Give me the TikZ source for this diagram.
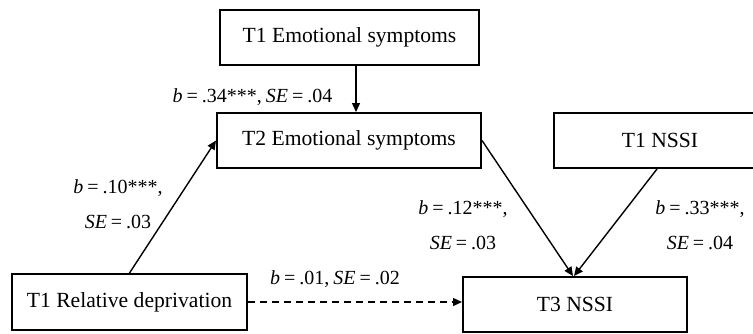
\documentclass[tikz,border=0pt]{standalone}
\usepackage{fontspec}
\setmainfont{Liberation Serif}
\usepackage{tikz}
\usetikzlibrary{arrows.meta,positioning,calc}
\newcommand\labfont{\fontsize{10pt}{17.5pt}\selectfont\spaceskip=0.2em\relax}

\begin{document}
\begin{tikzpicture}[
    x=0.5pt,y=-0.5pt,
    var/.style  = {rectangle,draw=black,line width=1pt,fill=white,inner sep=0pt,
                   align=center,font=\fontsize{10.8pt}{13pt}\selectfont,
                   minimum height=27.5pt},
    fl/.style   = {-{Triangle[length=4.5pt,width=4pt]},line width=0.7pt},
    fltir/.style= {fl,dashed,dash pattern=on 3.5pt off 2.5pt},
    lab/.style  = {font=\labfont,align=center,inner sep=0pt},
  ]
  \useasboundingbox (0,0) rectangle (753,333);

  % ── Variables ───────────────────────────────────────────────────────────
  \node[var,minimum width=129.5pt] (emo1)   at (349.5,37)   {T1 Emotional symptoms};
  \node[var,minimum width=132pt]   (emo2)   at (349,140.5)  {T2 Emotional symptoms};
  \node[var,minimum width=106pt]   (nssi1)  at (660,140.5)  {T1 NSSI};
  \node[var,minimum width=112pt]   (nssi3)  at (575,304.5)  {T3 NSSI};
  \node[var,minimum width=117.5pt,minimum height=28pt] (reldep) at (129.5,302) {T1 Relative deprivation};

  % ── Coefficients ────────────────────────────────────────────────────────
  \node[lab] (l34) at (252.5,97)  {\textit{b} = .34***, \textit{SE} = .04};
  \node[lab] (l10) at (118,204.5) {\textit{b} = .10***,\\\textit{SE} = .03};
  \node[lab] (l12) at (463,225)   {\textit{b} = .12***,\\\textit{SE} = .03};
  \node[lab] (l33) at (700,225)   {\textit{b} = .33***,\\\textit{SE} = .04};
  \node[lab] (l01) at (335,279)   {\textit{b} = .01, \textit{SE} = .02};

  % ── Chemins ─────────────────────────────────────────────────────────────
  \draw[fl] ([xshift=3.25pt]emo1.south) -- ([xshift=3.25pt]emo1.south |- emo2.north);
  \draw[fl] (reldep.north) -- (emo2.west);
  \draw[fl] (emo2.east) -- ([xshift=-1pt]nssi3.north);
  \draw[fl] ([xshift=-1.5pt]nssi1.south) -- ([xshift=-0.5pt]nssi3.north);
  \draw[fltir] (reldep.east) -- (reldep.east -| nssi3.west);

\end{tikzpicture}
\end{document}
